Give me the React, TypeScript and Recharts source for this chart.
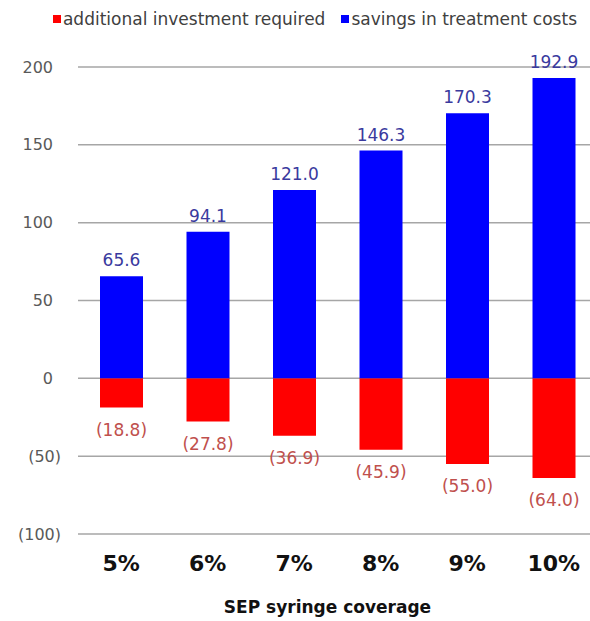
import {
  BarChart,
  Bar,
  XAxis,
  YAxis,
  CartesianGrid,
  Legend,
  LabelList,
  Label,
} from "recharts";

const categories = ["5%", "6%", "7%", "8%", "9%", "10%"];
const investmentRequired = [-18.8, -27.8, -36.9, -45.9, -55.0, -64.0];
const treatmentSavings = [65.6, 94.1, 121.0, 146.3, 170.3, 192.9];
const yTicks = [-100, -50, 0, 50, 100, 150, 200];
const seriesNames = ["additional investment required", "savings in treatment costs"];
const xAxisTitle = "SEP syringe coverage";

const FONT = "'DejaVu Sans', Verdana, sans-serif";
const RED = "#ff0000";
const BLUE = "#0000ff";

const data = categories.map((c, i) => ({
  cat: c,
  investment: investmentRequired[i],
  savings: treatmentSavings[i],
}));

const YTick = (props: any) => {
  const { x, y, payload } = props;
  const v = payload.value as number;
  const neg = v < 0;
  return (
    <text
      x={x - (neg ? 17 : 25)}
      y={y}
      dy="0.35em"
      textAnchor="end"
      fontSize={16}
      fontFamily={FONT}
      fill="#595959"
    >
      {neg ? `(${-v})` : v}
    </text>
  );
};

const XTick = (props: any) => {
  const { x, y, payload } = props;
  return (
    <text
      x={x}
      y={y + 37}
      textAnchor="middle"
      fontSize={22}
      fontWeight="bold"
      fontFamily={FONT}
      fill="#111"
    >
      {payload.value}
    </text>
  );
};

// labels above the blue bars
const SavingsLabel = (props: any) => {
  const x = Number(props.x);
  const y = Number(props.y);
  const w = Number(props.width);
  const h = Number(props.height);
  const top = Math.min(y, y + h);
  return (
    <text
      x={x + w / 2}
      y={top - 10}
      textAnchor="middle"
      fontSize={17}
      fontFamily={FONT}
      fill="#3a3a9e"
    >
      {Number(props.value).toFixed(1)}
    </text>
  );
};

// labels below the red bars, accounting style
const InvestmentLabel = (props: any) => {
  const x = Number(props.x);
  const y = Number(props.y);
  const w = Number(props.width);
  const h = Number(props.height);
  const bottom = Math.max(y, y + h);
  return (
    <text
      x={x + w / 2}
      y={bottom + 28}
      textAnchor="middle"
      fontSize={17}
      fontFamily={FONT}
      fill="#c0504d"
    >
      {`(${Math.abs(Number(props.value)).toFixed(1)})`}
    </text>
  );
};

const LegendContent = () => {
  const colors = [RED, BLUE];
  return (
    <div
      style={{
        display: "flex",
        justifyContent: "flex-end",
        gap: 16,
        paddingRight: 13,
        fontFamily: FONT,
        fontSize: 17,
        color: "#404040",
        lineHeight: "20px",
      }}
    >
      {seriesNames.map((n, i) => (
        <div key={n} style={{ display: "flex", alignItems: "center" }}>
          <span
            style={{
              display: "inline-block",
              width: 8,
              height: 8,
              background: colors[i],
              marginRight: 2,
            }}
          />
          <span>{n}</span>
        </div>
      ))}
    </div>
  );
};

export default function App() {
  return (
    <div
      style={{
        position: "absolute",
        left: 0,
        top: 0,
        width: 590,
        height: 621,
        overflow: "hidden",
        background: "#fff",
      }}
    >
      <BarChart
        width={597}
        height={621}
        data={data}
        stackOffset="sign"
        margin={{ top: 47, right: 0, bottom: 0, left: 0 }}
      >
        <CartesianGrid vertical={false} stroke="#a6a6a6" strokeWidth={1.5} />
        <XAxis
          dataKey="cat"
          height={87}
          axisLine={false}
          tickLine={false}
          tickSize={0}
          tickMargin={0}
          tick={<XTick />}
          interval={0}
        >
          <Label
            value={xAxisTitle}
            position="insideBottom"
            offset={8}
            dx={-10}
            fontSize={17}
            fontWeight="bold"
            fontFamily={FONT}
            fill="#111"
          />
        </XAxis>
        <YAxis
          width={78}
          domain={[-100, 200]}
          ticks={yTicks}
          axisLine={false}
          tickLine={false}
          tickSize={0}
          tickMargin={0}
          tick={<YTick />}
          interval={0}
        />
        <Legend
          verticalAlign="top"
          content={<LegendContent />}
          wrapperStyle={{ top: 9, left: 0, width: 590 }}
        />
        <Bar
          dataKey="investment"
          name={seriesNames[0]}
          stackId="a"
          fill={RED}
          barSize={43}
          isAnimationActive={false}
        >
          <LabelList dataKey="investment" content={<InvestmentLabel />} />
        </Bar>
        <Bar
          dataKey="savings"
          name={seriesNames[1]}
          stackId="a"
          fill={BLUE}
          barSize={43}
          isAnimationActive={false}
        >
          <LabelList dataKey="savings" content={<SavingsLabel />} />
        </Bar>
      </BarChart>
    </div>
  );
}
